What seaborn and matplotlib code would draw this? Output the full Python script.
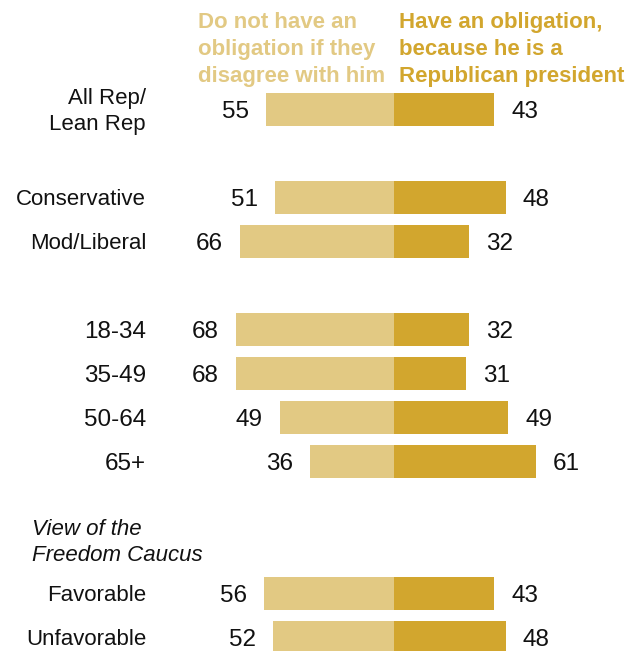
import pandas as pd
import matplotlib
matplotlib.use("Agg")
import matplotlib.pyplot as plt
import seaborn as sns

# values
groups = ["All Rep/\nLean Rep", "Conservative", "Mod/Liberal",
          "18-34", "35-49", "50-64", "65+",
          "Favorable", "Unfavorable"]
no_obligation = [55, 51, 66, 68, 68, 49, 36, 56, 52]
obligation = [43, 48, 32, 32, 31, 49, 61, 43, 48]

header_left = ["Do not have an", "obligation if they", "disagree with him"]
header_right = ["Have an obligation,", "because he is a", "Republican president"]
section_title = ["View of the", "Freedom Caucus"]

# row order with blank spacer rows for the gaps between sections
order = [groups[0], " ",
         groups[1], groups[2], "  ",
         groups[3], groups[4], groups[5], groups[6], "   ", "    ",
         groups[7], groups[8]]

light = "#E2C983"
dark = "#D2A62E"

df = pd.DataFrame({"group": groups,
                   "left": [-v for v in no_obligation],
                   "right": obligation})

sns.set_style("white")
plt.rcParams["font.family"] = ["Liberation Sans", "DejaVu Sans"]

fig = plt.figure(figsize=(6.36, 6.51), dpi=100)
ax = fig.add_axes([0, 0, 1, 1])

sns.barplot(data=df, x="left", y="group", order=order, orient="h",
            color=light, saturation=1, width=0.75, errorbar=None,
            linewidth=0, ax=ax)
sns.barplot(data=df, x="right", y="group", order=order, orient="h",
            color=dark, saturation=1, width=0.75, errorbar=None,
            linewidth=0, ax=ax)

# pixel-ish layout: center line at 394px, 2.33 px per point, 44 px per row
ax.set_xlim(-394 / 2.33, (636 - 394) / 2.33)
ax.set_ylim((651 - 109) / 44, -109 / 44)
ax.axis("off")

nudge = 2.5 / 44  # va=center sits a little high, push text down
pad = 7.3
for i, g in enumerate(groups):
    y = order.index(g) + nudge
    ax.text(-no_obligation[i] - pad, y, str(no_obligation[i]), ha="right",
            va="center", fontsize=17.5, color="#111111")
    ax.text(obligation[i] + pad, y, str(obligation[i]), ha="left",
            va="center", fontsize=17.5, color="#111111")
    # the age labels are set in the (wider) figure font
    size = 17.5 if g[0].isdigit() else 16
    ax.text(-106.4, y, g, ha="right", va="center", fontsize=size,
            color="#111111", multialignment="right", linespacing=1.32)

# column headers, one line at a time
for k, (a, b) in enumerate(zip(header_left, header_right)):
    y = (20 + 27 * k - 109) / 44 + nudge
    ax.text(-84.1, y, a, ha="left", va="center", fontsize=16,
            fontweight="bold", color=light)
    ax.text(2.1, y, b, ha="left", va="center", fontsize=16,
            fontweight="bold", color=dark)

for k, line in enumerate(section_title):
    ax.text(-155.3, (527 + 26 * k - 109) / 44 + nudge, line, ha="left",
            va="center", fontsize=16, style="italic", color="#111111")

fig.savefig("out.png", dpi=100)
